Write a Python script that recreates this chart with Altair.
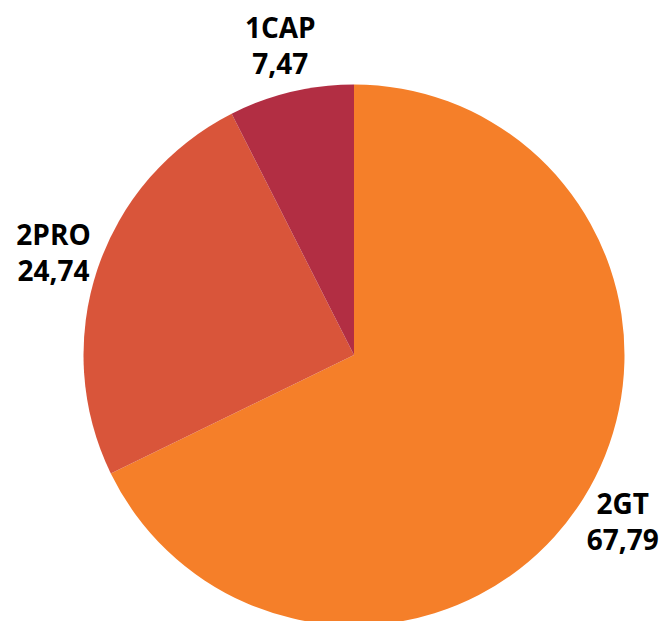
import altair as alt
import pandas as pd

categories = ["2GT", "2PRO", "1CAP"]
values = [67.79, 24.74, 7.47]
colors = ["#F57F29", "#D9553A", "#B22E43"]

labels = [f"{c}\n{v:.2f}".replace(".", ",") for c, v in zip(categories, values)]
df = pd.DataFrame({
    "cat": categories,
    "value": values,
    "order": list(range(len(categories))),
    "label": labels,
})

cx, cy = 346, 347

base = alt.Chart(df).encode(
    theta=alt.Theta("value:Q", stack=True),
    order=alt.Order("order:Q"),
    x=alt.value(cx),
    y=alt.value(cy),
)

pie = base.mark_arc(outerRadius=270.5, stroke=None).encode(
    color=alt.Color("cat:N", scale=alt.Scale(domain=categories, range=colors), legend=None),
)

text = base.mark_text(
    radius=317,
    dy=-17,
    font="Open Sans",
    fontSize=28,
    fontWeight="bold",
    lineBreak="\n",
    lineHeight=36,
    align="center",
    baseline="middle",
    color="#000000",
).encode(text="label:N")

chart = (pie + text).properties(
    width=653,
    height=613,
    autosize=alt.AutoSizeParams(type="none"),
    padding=0,
).configure_view(stroke=None)

chart.save("out.html", embed_options={"renderer": "svg", "actions": False})
